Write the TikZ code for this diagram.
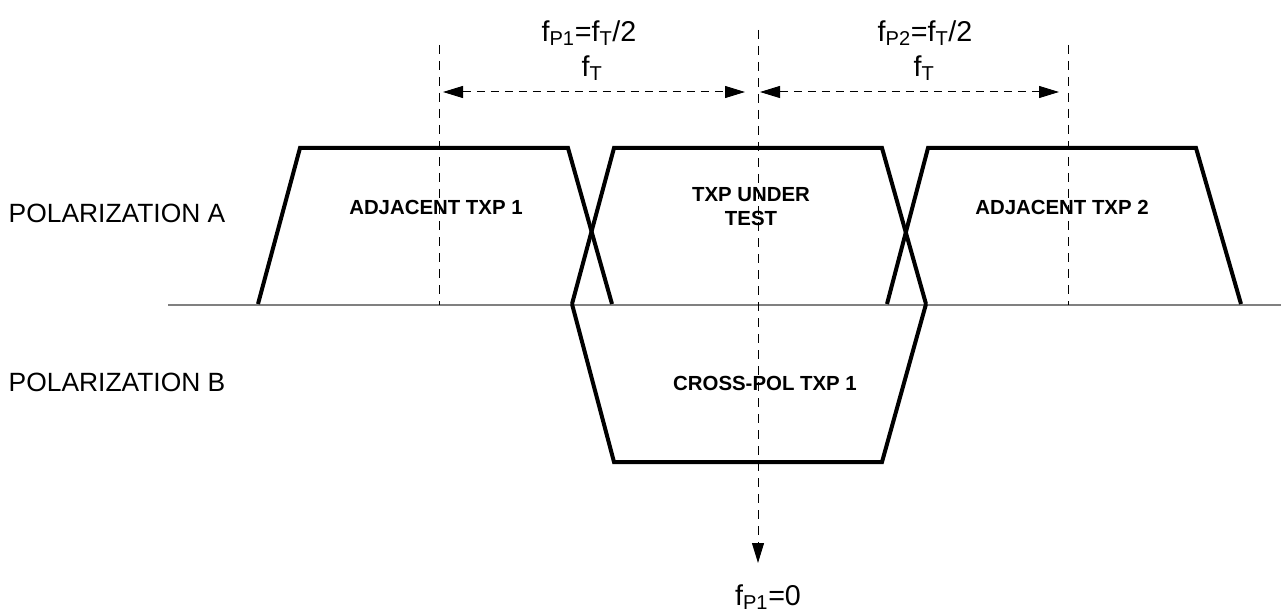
\documentclass[tikz,border=0pt]{standalone}
\usepackage{fontspec}
\setmainfont{Liberation Sans}
\usetikzlibrary{arrows.meta}
\tikzset{
    pulse/.style={line width=3pt, line join=miter},
    axis/.style={line width=1.1pt, draw=black!50},
    guide/.style={line width=0.75pt, dash pattern=on 7pt off 5pt},
    span/.style={line width=0.75pt, dash pattern=on 6pt off 4.5pt,
        {Triangle[length=15pt,width=9pt]}-{Triangle[length=15pt,width=9pt]}},
    lab/.style={font=\fontsize{19.8}{23}\selectfont},
    txp/.style={font=\fontsize{15.3}{18}\selectfont\bfseries, align=center},
    freq/.style={font=\fontsize{21.5}{25}\selectfont}
}

\begin{document}
\begin{tikzpicture}[x=0.75pt, y=-0.75pt]

% --- frame in pixel units, y pointing down ---
    \useasboundingbox (0,0) rectangle (1281,613);

% frequency axis
    \draw[axis] (168,305) -- (1281,305);

% channel centres (guide lines)
    \coordinate (g1top) at (439,45);  \coordinate (g1bot) at (439,305);
    \coordinate (g0top) at (758,30);  \coordinate (g0bot) at (758,563);
    \coordinate (g2top) at (1068,45); \coordinate (g2bot) at (1068,305);
    \draw[guide] (g1top) -- (g1bot);
    \draw[guide] (g2top) -- (g2bot);
    \draw[guide, -{Triangle[length=15pt,width=9pt]}] (g0top) -- (g0bot);

% spacing arrows between the centres
    \coordinate (s1a) at (443,92);  \coordinate (s1b) at (745,92);
    \coordinate (s2a) at (760,92);  \coordinate (s2b) at (1059,92);
    \draw[span] (s1a) -- (s1b);
    \draw[span] (s2a) -- (s2b);

% polarization A transponders
    \draw[pulse] (258,304) -- (300,148) -- (568,148) -- (612,304);
    \draw[pulse] (572,304) -- (614,148) -- (882,148) -- (926,304);
    \draw[pulse] (887,304) -- (928,148) -- (1196,148) -- (1241,304);

% polarization B transponder (below the axis)
    \draw[pulse] (572,304) -- (614,462) -- (882,462) -- (926,304);

% transponder names
    \node[txp] (adj1) at (436,207) {ADJACENT TXP 1};
    \node[txp] (uut) at (751,207) {TXP UNDER\\TEST};
    \node[txp] (adj2) at (1062,207) {ADJACENT TXP 2};
    \node[txp] (xpol) at (765,383) {CROSS-POL TXP 1};

% polarization labels
    \node[lab, anchor=west] (polA) at (4,213) {POLARIZATION A};
    \node[lab, anchor=west] (polB) at (4,382) {POLARIZATION B};

% frequency labels
    \node[freq] (fp1) at (589,33) {f\textsubscript{P1}=f\textsubscript{T}/2};
    \node[freq] (ft1) at (592,68) {f\textsubscript{T}};
    \node[freq] (fp2) at (925,33) {f\textsubscript{P2}=f\textsubscript{T}/2};
    \node[freq] (ft2) at (924,68) {f\textsubscript{T}};
    \node[freq] (fp0) at (768,597) {f\textsubscript{P1}=0};

\end{tikzpicture}
\end{document}
